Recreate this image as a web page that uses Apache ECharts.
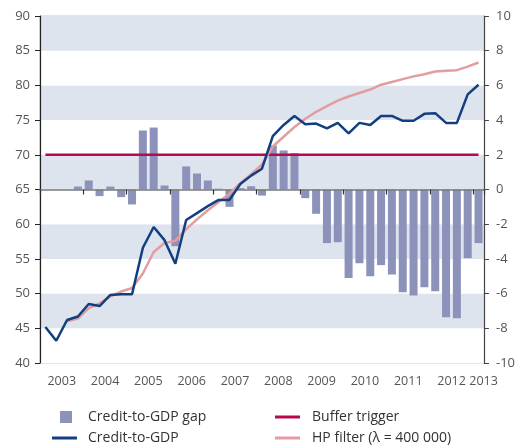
<!DOCTYPE html>
<html>
<head>
<meta charset="utf-8">
<script src="https://cdn.jsdelivr.net/npm/echarts@6/dist/echarts.min.js"></script>
<style>
  html, body { margin: 0; padding: 0; background: #fff; }
  #chart { width: 518px; height: 448px; }
</style>
</head>
<body>
<div id="chart"></div>
<script>
  // quarterly observations, 2003 Q1 - 2013 Q1
  const years = ['2003', '2004', '2005', '2006', '2007', '2008', '2009', '2010', '2011', '2012', '2013']
  const quarters = ['Q1', 'Q2', 'Q3', 'Q4']

  const creditToGdp = [45.2, 43.2, 46.2, 46.7, 48.5, 48.2, 49.8, 49.9, 49.9, 56.6, 59.6, 57.7,
    54.3, 60.6, 61.6, 62.6, 63.5, 63.5, 65.8, 67.0, 68.0, 72.7, 74.3, 75.6, 74.4, 74.5, 73.8, 74.6,
    73.1, 74.6, 74.3, 75.6, 75.6, 74.9, 74.9, 75.9, 76.0, 74.6, 74.6, 78.7, 80.1]

  const hpFilter = [null, null, 46.0, 46.4, 47.9, 48.6, 49.6, 50.3, 50.8, 52.9, 56.0, 57.3,
    57.6, 59.3, 60.7, 62.0, 63.2, 64.4, 65.9, 67.2, 68.6, 71.2, 72.6, 74.0, 75.2, 76.2, 77.0, 77.8,
    78.4, 78.9, 79.4, 80.1, 80.5, 80.9, 81.3, 81.6, 82.0, 82.1, 82.2, 82.7, 83.3]

  const bufferTrigger = [70, 70, 70, 70, 70, 70, 70, 70, 70, 70, 70, 70, 70, 70, 70, 70, 70, 70, 70, 70,
    70, 70, 70, 70, 70, 70, 70, 70, 70, 70, 70, 70, 70, 70, 70, 70, 70, 70, 70, 70, 70]

  const creditGap = [null, null, null, 0.17, 0.52, -0.38, 0.17, -0.44, -0.86, 3.4, 3.57, 0.23,
    -3.27, 1.33, 0.92, 0.52, 0.05, -1.0, 0.08, 0.19, -0.35, 2.54, 2.25, 2.1, -0.5, -1.4, -3.09, -3.04,
    -5.1, -4.25, -5.0, -4.36, -4.9, -5.92, -6.11, -5.63, -5.86, -7.36, -7.42, -3.96, -3.09]

  let categories = []
  years.forEach(y => quarters.forEach(q => categories.push(y + ' ' + q)))
  categories = categories.slice(0, creditToGdp.length)

  const font = '"Open Sans", sans-serif'
  const names = ['Credit-to-GDP gap', 'Credit-to-GDP', 'Buffer trigger', 'HP filter (λ = 400 000)']

  const chart = echarts.init(document.getElementById('chart'), null, { renderer: 'canvas' })
  chart.setOption({
    animation: false,
    textStyle: { fontFamily: font },
    grid: {
      left: 40, right: 33, top: 16, bottom: 85,
      show: true, borderColor: '#c9c9c9', borderWidth: 1, backgroundColor: 'transparent'
    },
    legend: [
      { data: [names[0]], left: 55, top: 404, icon: 'rect', itemWidth: 12, itemHeight: 12,
        textStyle: { fontFamily: font, fontSize: 14, color: '#333', lineHeight: 16, padding: [0, 0, 0, 11] } },
      { data: [names[1]], left: 47, top: 425, icon: 'rect', itemWidth: 25, itemHeight: 3,
        textStyle: { fontFamily: font, fontSize: 14, color: '#333', lineHeight: 16, padding: [0, 0, 0, 6] } },
      { data: [names[2]], left: 270, top: 404, icon: 'rect', itemWidth: 25, itemHeight: 3,
        textStyle: { fontFamily: font, fontSize: 14, color: '#333', lineHeight: 16, padding: [0, 0, 0, 7] } },
      { data: [names[3]], left: 270, top: 425, icon: 'rect', itemWidth: 25, itemHeight: 3,
        textStyle: { fontFamily: font, fontSize: 14, color: '#333', lineHeight: 16, padding: [0, 0, 0, 7] } }
    ],
    xAxis: [
      {
        type: 'category',
        data: categories,
        position: 'bottom',
        axisLine: { show: false },
        axisTick: { show: false },
        axisLabel: {
          margin: 12,
          interval: (index) => index % 4 === 1 || index === categories.length - 1,
          formatter: (value, index) => {
            const y = value.split(' ')[0]
            return index === categories.length - 1 ? '{e|' + y + '}' : '{y|' + y + '}'
          },
          rich: {
            y: { fontFamily: font, fontSize: 12.5, color: '#555', padding: [0, 0, 0, 11] },
            e: { fontFamily: font, fontSize: 12.5, color: '#555', padding: [0, 0, 0, 10] }
          }
        }
      },
      {
        // zero line of the gap axis, with year ticks
        type: 'category',
        data: categories,
        position: 'top',
        z: 3,
        axisLine: { onZero: true, onZeroAxisIndex: 1, lineStyle: { color: '#7a7a7a', width: 1.5 } },
        axisTick: { show: true, inside: true, interval: 3, length: 5, lineStyle: { color: '#333', width: 1.2 } },
        axisLabel: { show: false }
      }
    ],
    yAxis: [
      {
        type: 'value',
        min: 40, max: 90, interval: 5,
        axisLine: { show: true, lineStyle: { color: '#222', width: 1.2 } },
        axisTick: { show: true, length: 5, lineStyle: { color: '#222' } },
        axisLabel: { margin: 10, fontFamily: font, fontSize: 13, color: '#555' },
        splitLine: { show: false },
        splitArea: { show: true, areaStyle: { color: ['#ffffff', '#dee4ee'] } }
      },
      {
        type: 'value',
        min: -10, max: 10, interval: 2,
        position: 'right',
        axisLine: { show: true, lineStyle: { color: '#444', width: 1.2 } },
        axisTick: { show: true, length: 5, lineStyle: { color: '#444' } },
        axisLabel: { margin: 12, fontFamily: font, fontSize: 13, color: '#555' },
        splitLine: { show: false }
      }
    ],
    series: [
      {
        name: names[0],
        type: 'bar',
        yAxisIndex: 1,
        barWidth: 8,
        z: 2,
        itemStyle: { color: '#8c92ba' },
        data: creditGap
      },
      {
        name: names[2],
        type: 'line',
        z: 4,
        symbol: 'none',
        lineStyle: { color: '#b8094e', width: 2.5 },
        itemStyle: { color: '#b8094e' },
        data: bufferTrigger
      },
      {
        name: names[3],
        type: 'line',
        z: 5,
        symbol: 'none',
        lineStyle: { color: '#e39d9f', width: 2.5 },
        itemStyle: { color: '#e39d9f' },
        data: hpFilter
      },
      {
        name: names[1],
        type: 'line',
        z: 6,
        symbol: 'none',
        lineStyle: { color: '#123f80', width: 2.5 },
        itemStyle: { color: '#123f80' },
        data: creditToGdp
      }
    ]
  })
</script>
</body>
</html>
